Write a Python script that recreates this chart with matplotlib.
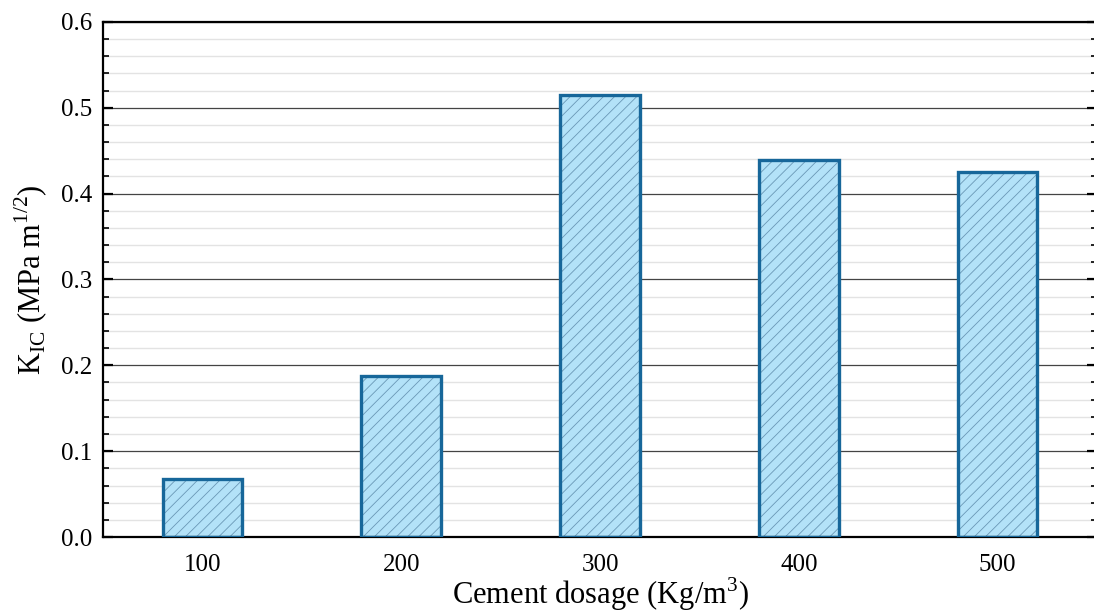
import matplotlib
matplotlib.use("Agg")
from matplotlib import pyplot as plt
from matplotlib.ticker import MultipleLocator

dosage = [100, 200, 300, 400, 500]
kic = [0.068, 0.187, 0.515, 0.439, 0.425]

plt.rcParams['font.family'] = ['Liberation Serif', 'DejaVu Serif']
plt.rcParams['mathtext.fontset'] = 'custom'
plt.rcParams['mathtext.rm'] = 'Liberation Serif'
plt.rcParams['hatch.linewidth'] = 0.6
plt.rcParams['hatch.color'] = '#5a8fb0'

fig = plt.figure(figsize=(10.94, 6.14), dpi=100)
# right edge of the axes runs just past the picture, as in the original crop
ax = fig.add_axes([0.0942, 0.1254, 0.9086, 0.8388])

# hatched fill, then the outline on top
ax.bar(dosage, kic, width=40, color='#b3e2f8', edgecolor='#6a98b6', linewidth=0,
       hatch='///', zorder=2)
ax.bar(dosage, kic, width=40, fill=False, edgecolor='#17679a', linewidth=2.4, zorder=3)

ax.set_xlim(50, 550)
ax.set_ylim(0, 0.6)
ax.set_xticks(dosage)
ax.yaxis.set_major_locator(MultipleLocator(0.1))
ax.yaxis.set_minor_locator(MultipleLocator(0.02))
ax.yaxis.set_major_formatter(plt.FormatStrFormatter('%.1f'))

ax.grid(axis='y', which='major', color='#444444', linewidth=0.9, zorder=0)
ax.grid(axis='y', which='minor', color='#e3e3e3', linewidth=1.0, zorder=0)
ax.set_axisbelow(True)

for s in ['left', 'top', 'bottom', 'right']:
    ax.spines[s].set_linewidth(1.6)
ax.tick_params(axis='y', which='major', direction='in', length=7, width=1.6,
               right=True, labelsize=18, pad=8)
ax.tick_params(axis='y', which='minor', direction='in', length=4, width=1.2, right=True)
ax.tick_params(axis='x', length=0, labelsize=18, pad=12)

ax.set_xlabel(r'Cement dosage (Kg/m$^3$)', fontsize=22, labelpad=0)
ax.set_ylabel(r'K$_{\mathrm{IC}}$ (MPa m$^{1/2}$)', fontsize=22, labelpad=8)

fig.savefig('out.png', dpi=100)
